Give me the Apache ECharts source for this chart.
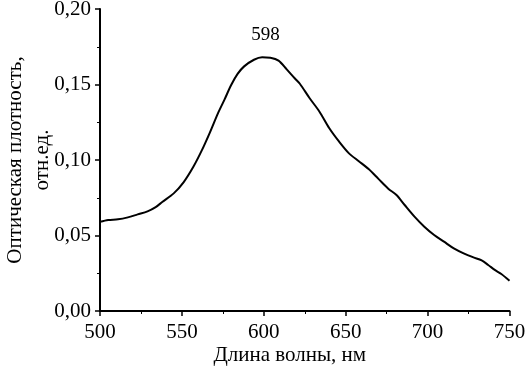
<!DOCTYPE html>
<html>
<head>
<meta charset="utf-8">
<script src="https://cdn.jsdelivr.net/npm/echarts@6/dist/echarts.min.js"></script>
<style>html,body{margin:0;padding:0;background:#fff}#c{width:525px;height:371px}</style>
</head>
<body>
<div id="c"></div>
<script>
var wavelength = [500,505,511,517,523,529,534,538,545,551,557,562,567,572,576,580,584,588,594,599,604,609,614,619,622,628,634,640,646,652,658,664,670,676,681,686,692,698,704,710,716,722,728,733,737,741,745,750];
var density = [0.0591,0.0603,0.0607,0.0620,0.0640,0.0660,0.0688,0.0722,0.0779,0.0852,0.0955,0.1060,0.1180,0.1309,0.1400,0.1495,0.1570,0.1620,0.1664,0.1680,0.1677,0.1658,0.1600,0.1540,0.1505,0.1409,0.1320,0.1210,0.1121,0.1044,0.0992,0.0940,0.0875,0.0810,0.0768,0.0702,0.0625,0.0558,0.0503,0.0459,0.0415,0.0382,0.0355,0.0335,0.0305,0.0272,0.0245,0.0200];
var xTitle = 'Длина волны, нм';
var yTitle = 'Оптическая плотность,\nотн.ед.';
var peakText = '598';
var peakPos = [601, 0.1828];

var pts = wavelength.map(function(w,i){return [w, density[i]];});
var font = 'Liberation Serif';
var chart = echarts.init(document.getElementById('c'));
chart.setOption({
  animation: false,
  backgroundColor: '#fff',
  grid: {left: 100, right: 15.5, top: 9, bottom: 60, containLabel: false, outerBoundsMode: 'none'},
  xAxis: {
    type: 'value', min: 500, max: 750, interval: 50,
    name: xTitle, nameLocation: 'middle', nameGap: 34, nameMoveOverlap: false,
    nameTextStyle: {fontFamily: font, fontSize: 21, color: '#000', padding: [0, 30, 0, 0]},
    axisLine: {show: true, onZero: false, lineStyle: {color: '#000', width: 2}},
    axisTick: {show: true, inside: false, length: 5, lineStyle: {color: '#000', width: 1.5}},
    minorTick: {show: true, splitNumber: 2, length: 3, lineStyle: {color: '#000', width: 1}},
    axisLabel: {fontFamily: font, fontSize: 21, color: '#000', margin: 11},
    splitLine: {show: false}
  },
  yAxis: {
    type: 'value', min: 0, max: 0.2, interval: 0.05,
    name: yTitle, nameLocation: 'middle', nameRotate: 90, nameGap: 44, nameMoveOverlap: false,
    nameTextStyle: {fontFamily: font, fontSize: 21, color: '#000', lineHeight: 27},
    axisLine: {show: true, onZero: false, lineStyle: {color: '#000', width: 2}},
    axisTick: {show: true, inside: false, length: 5, lineStyle: {color: '#000', width: 1.5}},
    minorTick: {show: true, splitNumber: 2, length: 3, lineStyle: {color: '#000', width: 1}},
    axisLabel: {fontFamily: font, fontSize: 21, color: '#000', margin: 9,
      formatter: function(v){return v.toFixed(2).replace('.', ',');}},
    splitLine: {show: false}
  },
  series: [{
    type: 'line', data: pts, smooth: 0.3, showSymbol: false, symbol: 'none',
    lineStyle: {color: '#000', width: 2},
    markPoint: {
      symbol: 'circle', symbolSize: 0,
      label: {show: true, position: 'inside', formatter: peakText, fontFamily: font, fontSize: 19, color: '#000'},
      data: [{coord: peakPos}]
    }
  }]
});
</script>
</body>
</html>
